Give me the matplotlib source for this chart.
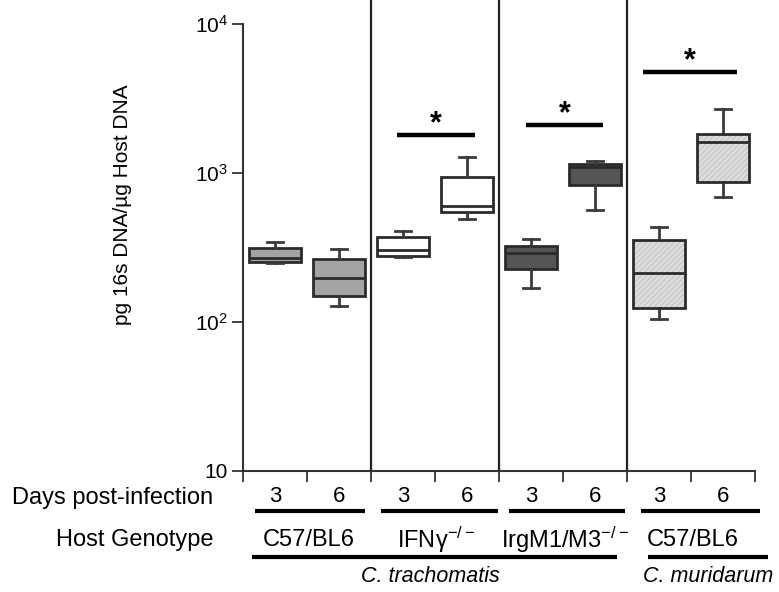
import numpy as np
from matplotlib import pyplot as plt
from matplotlib.patches import PathPatch
from matplotlib.transforms import blended_transform_factory

plt.rcParams['font.family'] = ['Liberation Sans', 'DejaVu Sans']
plt.rcParams['mathtext.fontset'] = 'custom'
plt.rcParams['mathtext.rm'] = 'Liberation Sans'
plt.rcParams['mathtext.it'] = 'Liberation Sans:italic'
plt.rcParams['hatch.linewidth'] = 0.6

''' ----- DATA (read off the figure) ----- '''
days = ['3', '6', '3', '6', '3', '6', '3', '6']
genotypes = ['C57/BL6', 'IFN\u03b3$^{\\mathregular{-/-}}$', 'IrgM1/M3$^{\\mathregular{-/-}}$', 'C57/BL6']
species = ['C. trachomatis', 'C. muridarum']

whislo = [248, 129, 274, 491, 169, 562, 104, 687]
q1     = [253, 149, 279, 545, 228, 834, 125, 870]
med    = [270, 196, 304, 601, 289, 1102, 213, 1615]
q3     = [315, 265, 370, 944, 325, 1148, 357, 1827]
whishi = [346, 307, 410, 1280, 362, 1205, 436, 2690]

# significance bars: (start, end, level)
sig_x0 = [1.91, 3.92, 5.75]
sig_x1 = [3.13, 5.13, 7.22]
sig_y = [1807, 2100, 4785]

''' ----- STYLE ----- '''
fills = ['#a3a3a3', '#a3a3a3', 'white', 'white', '#555555', '#555555', '#dcdcdc', '#dcdcdc']
hatched = [False, False, False, False, False, False, True, True]
edge = '#2b2b2b'
W, H = 779, 592
fs_lab = 17

fig = plt.figure(figsize=(W/100, H/100), dpi=100)
ax = fig.add_axes([243/W, 1-471/H, (755-243)/W, (471-24)/H])

stats = []
for i in range(len(med)):
    stats.append(dict(whislo=whislo[i], q1=q1[i], med=med[i], q3=q3[i], whishi=whishi[i], fliers=[]))

pos = np.arange(len(med))
bp = ax.bxp(stats, positions=pos, widths=0.8, capwidths=0.26, patch_artist=True,
            showfliers=False,
            boxprops=dict(edgecolor=edge, linewidth=2),
            medianprops=dict(color=edge, linewidth=2),
            whiskerprops=dict(color='#3a3a3a', linewidth=2),
            capprops=dict(color='#3a3a3a', linewidth=2))

for i, box in enumerate(bp['boxes']):
    box.set_facecolor(fills[i])
    if hatched[i]:
        box.set_hatch('//////')
        box.set_edgecolor('#bdbdbd')
        box.set_linewidth(0)
        outline = PathPatch(box.get_path(), facecolor='none', edgecolor=edge, linewidth=2,
                            transform=box.get_transform(), zorder=box.get_zorder()+0.1)
        ax.add_patch(outline)
for m in bp['medians']:
    m.set_zorder(4)

ax.set_yscale('log')
ax.set_ylim(10, 1e4)
ax.set_xlim(-0.5, 7.5)
ax.set_yticks([10, 100, 1000, 10000])
ax.set_yticklabels(['10', '10$^{\\mathregular{2}}$', '10$^{\\mathregular{3}}$', '10$^{\\mathregular{4}}$'])
ax.yaxis.set_minor_locator(plt.NullLocator())
ax.set_xticks(np.arange(-0.5, 8, 1.0))
ax.set_xticklabels([])
ax.tick_params(axis='both', length=8, width=1.3, color='#333333', labelsize=15, direction='out')
ax.tick_params(axis='y', pad=3)
for side in ['top', 'right']:
    ax.spines[side].set_visible(False)
for side in ['left', 'bottom']:
    ax.spines[side].set_linewidth(1.5)
    ax.spines[side].set_color('#333333')

# group separators
for xs in [1.5, 3.5, 5.5]:
    ax.axvline(xs, ymin=0, ymax=471/447, color='#222222', lw=1.6, clip_on=False)

# significance bars and stars
for a, b, lev in zip(sig_x0, sig_x1, sig_y):
    ax.plot([a, b], [lev, lev], color='black', lw=3.2, solid_capstyle='butt')
    ax.annotate('*', xy=((a+b)/2, lev), xytext=(0, -3), textcoords='offset points',
                ha='center', va='bottom', fontsize=22, fontweight='bold')

fig.text(123/W, 1-205/H, 'pg 16s DNA/\u00b5g Host DNA', rotation=90, ha='center', va='center', fontsize=15)

''' ----- LABELS UNDER THE AXIS ----- '''
tr = blended_transform_factory(ax.transData, fig.transFigure)
fig.text(213/W, 1-498/H, 'Days post-infection', ha='right', va='center', fontsize=fs_lab)
for i, d in enumerate(days):
    ax.text(pos[i], 1-496/H, d, transform=tr, ha='center', va='center', fontsize=16)

under_x0 = [-0.31, 1.66, 3.66, 5.72]
under_x1 = [1.41, 3.48, 5.47, 7.58]
for a, b in zip(under_x0, under_x1):
    ax.plot([a, b], [1-511/H]*2, transform=tr, color='black', lw=3, clip_on=False,
            solid_capstyle='butt')

fig.text(213/W, 1-540/H, 'Host Genotype', ha='right', va='center', fontsize=fs_lab)
geno_x = [0.53, 2.52, 4.53, 6.52]
for gx, g in zip(geno_x, genotypes):
    ax.text(gx, 1-540/H, g, transform=tr, ha='center', va='center', fontsize=fs_lab)

long_x0 = [-0.36, 5.83]
long_x1 = [5.34, 7.70]
for a, b in zip(long_x0, long_x1):
    ax.plot([a, b], [1-557/H]*2, transform=tr, color='black', lw=3, clip_on=False,
            solid_capstyle='butt')
species_x = [2.42, 6.77]
for sx, s in zip(species_x, species):
    ax.text(sx, 1-577/H, s, transform=tr, ha='center', va='center', fontsize=15.5, style='italic')

plt.savefig('out.png', dpi=100)
plt.close()
